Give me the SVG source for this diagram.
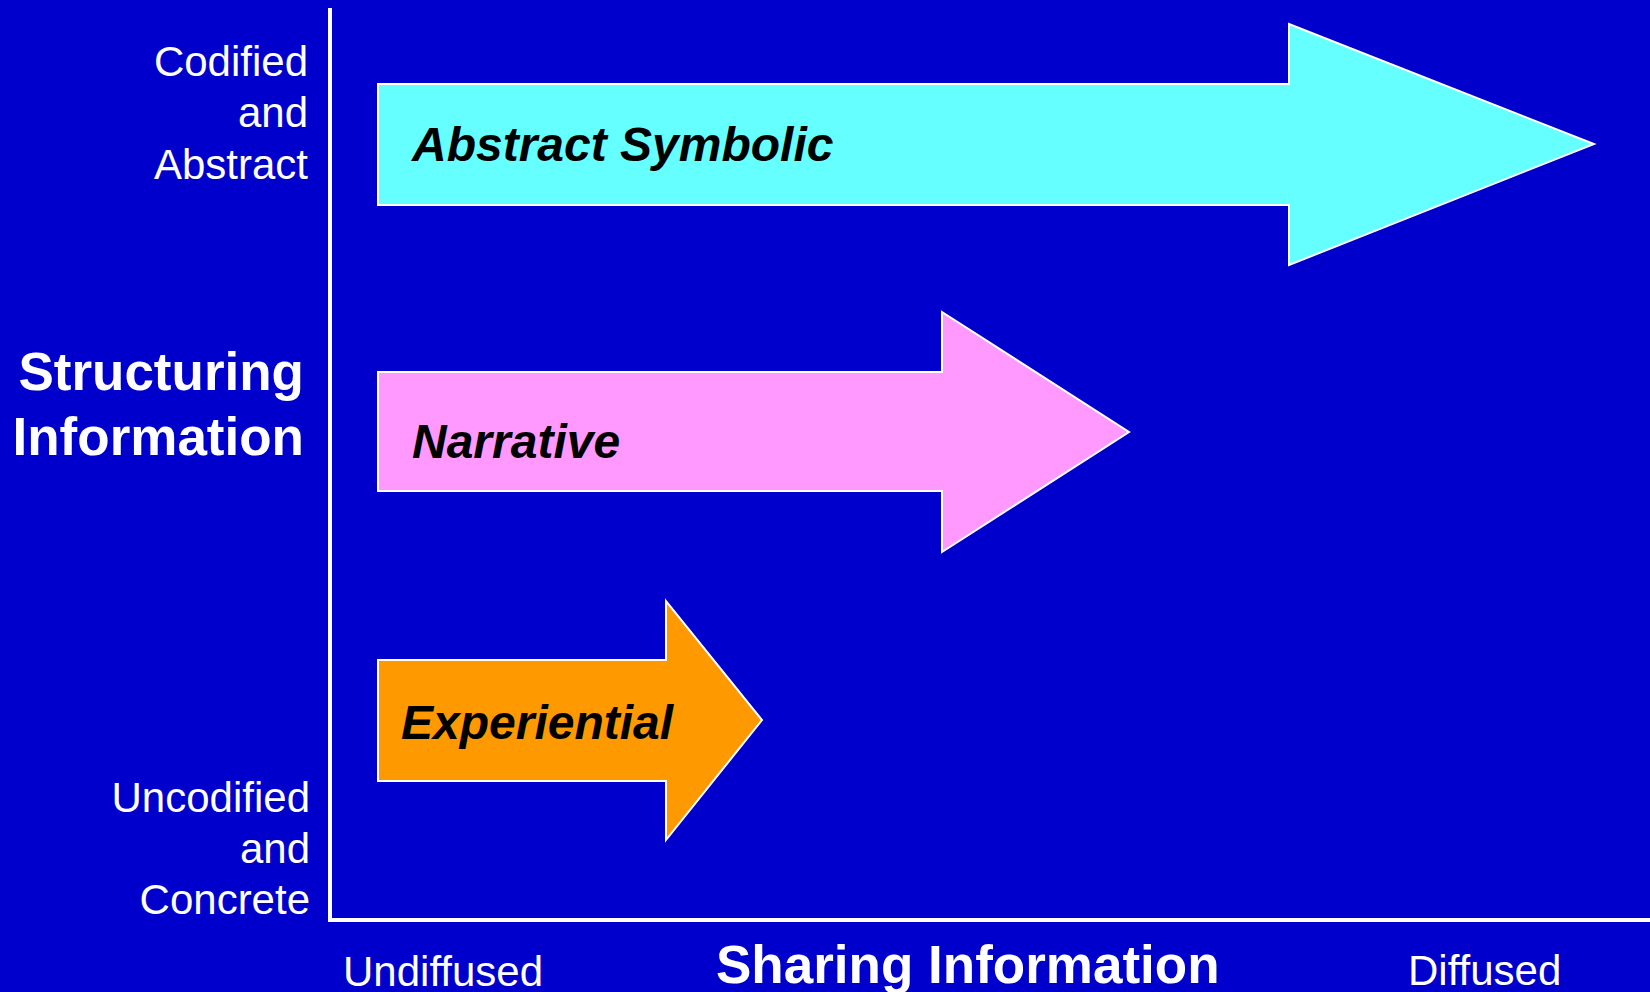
<svg xmlns="http://www.w3.org/2000/svg" width="1650" height="992" viewBox="0 0 1650 992">
<style>
.lbl{font-family:"Liberation Sans",Arial,sans-serif;fill:#fff;font-size:42px;text-anchor:end}
.ttl{font-family:"Liberation Sans",Arial,sans-serif;fill:#fff;font-weight:bold}
.arr{stroke:#fff;stroke-width:2;stroke-linejoin:miter}
.atx{font-family:"Liberation Sans",Arial,sans-serif;fill:#000;font-weight:bold;font-style:italic;font-size:48px}
.axis{stroke:#fff;stroke-width:4;fill:none}
</style>
<rect width="1650" height="992" fill="#0000CC"/>
<g id="axes">
<path class="axis" d="M330 8 V920 H1650"/>
</g>
<g id="labels-y">
<text class="lbl" x="308" y="76">Codified</text>
<text class="lbl" x="308" y="127">and</text>
<text class="lbl" x="308" y="179">Abstract</text>
<text class="ttl" x="304" y="390" font-size="53" text-anchor="end">Structuring</text>
<text class="ttl" x="304" y="455" font-size="53" text-anchor="end">Information</text>
<text class="lbl" x="310" y="812">Uncodified</text>
<text class="lbl" x="310" y="863">and</text>
<text class="lbl" x="310" y="914">Concrete</text>
</g>
<g id="labels-x">
<text class="lbl" x="343" y="986" style="text-anchor:start">Undiffused</text>
<text class="ttl" x="716" y="983" font-size="53">Sharing Information</text>
<text class="lbl" x="1408" y="985" style="text-anchor:start">Diffused</text>
</g>
<g id="abstract-symbolic">
<polygon class="arr" fill="#66FFFF" points="378,84 1289,84 1289,24 1594,144 1289,265 1289,205 378,205"/>
<text class="atx" x="412" y="161">Abstract Symbolic</text>
</g>
<g id="narrative">
<polygon class="arr" fill="#FF99FF" points="378,372 942,372 942,312 1129,432 942,552 942,491 378,491"/>
<text class="atx" x="412" y="458">Narrative</text>
</g>
<g id="experiential">
<polygon class="arr" fill="#FF9900" points="378,660 666,660 666,601 762,720 666,840 666,781 378,781"/>
<text class="atx" x="401" y="739">Experiential</text>
</g>
</svg>
